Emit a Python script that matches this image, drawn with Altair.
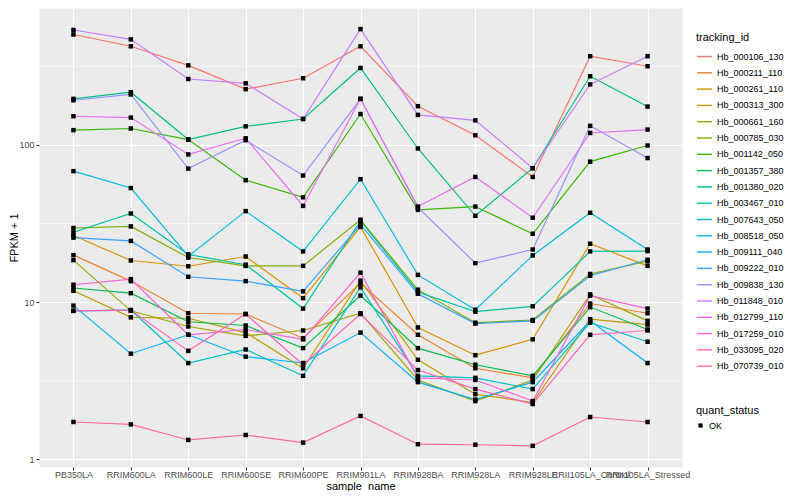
import altair as alt
import pandas as pd

samples = ["PB350LA", "RRIM600LA", "RRIM600LE", "RRIM600SE", "RRIM600PE",
           "RRIM901LA", "RRIM928BA", "RRIM928LA", "RRIM928LE",
           "RRII105LA_Control", "RRII105LA_Stressed"]

tracking_ids = ["Hb_000106_130", "Hb_000211_110", "Hb_000261_110", "Hb_000313_300",
                "Hb_000661_160", "Hb_000785_030", "Hb_001142_050", "Hb_001357_380",
                "Hb_001380_020", "Hb_003467_010", "Hb_007643_050", "Hb_008518_050",
                "Hb_009111_040", "Hb_009222_010", "Hb_009838_130", "Hb_011848_010",
                "Hb_012799_110", "Hb_017259_010", "Hb_033095_020", "Hb_070739_010"]

palette = ["#F8766D", "#EA8331", "#D89000", "#C09B00", "#A3A500", "#7CAE00",
           "#39B600", "#00BB4E", "#00BF7D", "#00C1A3", "#00BFC4", "#00BAE0",
           "#00B0F6", "#35A2FF", "#9590FF", "#C77CFF", "#E76BF3", "#FA62DB",
           "#FF62BC", "#FF6C91"]

# FPKM + 1, one list per tracking_id, in the order of `samples`
hb_000106_130 = [503, 423, 320, 226, 265, 423, 176, 115, 62.5, 366, 316]
hb_000211_110 = [19.9, 13.6, 8.5, 8.4, 5.9, 13.2, 6.2, 3.8, 3.3, 9.8, 8.5]
hb_000261_110 = [26.5, 18.4, 16.9, 19.5, 10.6, 30.1, 6.9, 4.6, 5.8, 23.5, 17.0]
hb_000313_300 = [11.8, 8.0, 7.9, 6.4, 3.8, 13.7, 4.3, 2.6, 2.3, 7.8, 7.2]
hb_000661_160 = [18.5, 8.8, 7.0, 6.1, 6.6, 8.5, 3.2, 2.35, 3.2, 11.2, 7.6]
hb_000785_030 = [29.6, 30.3, 19.2, 17.0, 17.0, 33.4, 12.0, 7.4, 7.7, 15.1, 18.2]
hb_001142_050 = [124, 127, 108, 59.6, 46.4, 157, 38.6, 40.5, 27.2, 78.2, 99]
hb_001357_380 = [12.3, 11.4, 7.5, 7.1, 5.1, 11.0, 5.1, 4.0, 3.4, 9.3, 6.7]
hb_001380_020 = [196, 216, 108, 131, 146, 308, 94.8, 35.4, 71, 273, 175]
hb_003467_010 = [27.8, 36.6, 20.1, 17.3, 9.1, 32.8, 11.6, 8.7, 9.4, 21.0, 21.1]
hb_007643_050 = [8.8, 8.9, 4.1, 5.0, 3.4, 12.4, 3.4, 3.3, 2.8, 7.4, 5.6]
hb_008518_050 = [68, 53.1, 19.6, 37.9, 21.0, 60.5, 14.9, 8.95, 19.8, 37.0, 21.6]
hb_009111_040 = [9.5, 4.7, 6.2, 4.5, 4.1, 6.4, 3.1, 2.4, 3.1, 7.6, 4.1]
hb_009222_010 = [25.7, 24.5, 14.5, 13.6, 11.7, 31.1, 11.3, 7.3, 7.6, 14.7, 18.6]
hb_009838_130 = [192, 209, 70.6, 107, 63.8, 196, 40.0, 17.7, 21.6, 132, 82.4]
hb_011848_010 = [537, 468, 262, 246, 146, 544, 155, 143, 71, 242, 366]
hb_012799_110 = [152, 149, 86.9, 110, 40.9, 196, 40.5, 62.5, 34.4, 119, 125]
hb_017259_010 = [12.9, 14.0, 6.2, 6.7, 5.8, 15.4, 3.3, 3.2, 2.35, 11.0, 9.1]
hb_033095_020 = [8.8, 8.9, 4.9, 8.4, 4.0, 8.4, 3.7, 2.8, 2.25, 6.2, 6.6]
hb_070739_010 = [1.73, 1.67, 1.33, 1.43, 1.28, 1.89, 1.25, 1.24, 1.22, 1.86, 1.73]

series = [hb_000106_130, hb_000211_110, hb_000261_110, hb_000313_300, hb_000661_160,
          hb_000785_030, hb_001142_050, hb_001357_380, hb_001380_020, hb_003467_010,
          hb_007643_050, hb_008518_050, hb_009111_040, hb_009222_010, hb_009838_130,
          hb_011848_010, hb_012799_110, hb_017259_010, hb_033095_020, hb_070739_010]

y_breaks = [1, 10, 100]
y_minor = [3.1623, 31.623, 316.23]

rows = []
for tid, vals in zip(tracking_ids, series):
    for s, v in zip(samples, vals):
        rows.append({"tracking_id": tid, "sample_name": s, "fpkm1": v, "quant_status": "OK"})
df = pd.DataFrame(rows)
minor_df = pd.DataFrame({"fpkm1": y_minor})

FONT = "Liberation Sans"

x_enc = alt.X("sample_name:N", sort=samples,
              scale=alt.Scale(type="point", padding=0.6),
              axis=alt.Axis(title="sample_name", labelAngle=0, labelFontSize=9,
                            labelColor="#4D4D4D", tickColor="#333333", tickSize=3,
                            labelPadding=0, titlePadding=1, titleFontSize=11,
                            titleFontWeight="normal", titleColor="black",
                            domain=False, grid=True, gridColor="white", gridWidth=1.1,
                            labelFont=FONT, titleFont=FONT))
y_scale = alt.Scale(type="log", domain=[0.895, 741], nice=False)
y_axis = alt.Axis(title="FPKM + 1", values=y_breaks, format="~g",
                  labelFontSize=9, labelColor="#4D4D4D", tickColor="#333333",
                  tickSize=3, labelPadding=2, titleFontSize=11,
                  titleFontWeight="normal", titleColor="black",
                  minExtent=20, maxExtent=20, titlePadding=0,
                  domain=False, grid=True, gridColor="white", gridWidth=1.1,
                  labelFont=FONT, titleFont=FONT)
y_enc = alt.Y("fpkm1:Q", scale=y_scale, axis=y_axis)

minor = alt.Chart(minor_df).mark_rule(color="white", strokeWidth=0.55).encode(
    y=y_enc
)

lines = alt.Chart(df).mark_line(strokeWidth=1.15).encode(
    x=x_enc, y=y_enc,
    color=alt.Color("tracking_id:N",
                    scale=alt.Scale(domain=tracking_ids, range=palette),
                    legend=alt.Legend(title="tracking_id", orient="none",
                                      legendX=657, legendY=24,
                                      symbolType="stroke", symbolSize=225,
                                      symbolStrokeWidth=1.4, rowPadding=2.3,
                                      labelFontSize=9, titleFontSize=11,
                                      titleFontWeight="normal", titlePadding=5,
                                      labelFont=FONT, titleFont=FONT,
                                      labelColor="black", titleColor="black",
                                      padding=0)),
    detail="tracking_id:N",
)

points = alt.Chart(df).mark_point(filled=True, color="black", size=20, opacity=1).encode(
    x=x_enc, y=y_enc,
    shape=alt.Shape("quant_status:N", scale=alt.Scale(range=["square"]),
                    legend=alt.Legend(title="quant_status", orient="none",
                                      legendX=657, legendY=397,
                                      symbolFillColor="black", symbolStrokeColor="black",
                                      symbolSize=18, labelFontSize=9, titleFontSize=11,
                                      titleFontWeight="normal", titlePadding=5,
                                      labelFont=FONT, titleFont=FONT,
                                      labelColor="black", titleColor="black",
                                      padding=0)),
)

chart = alt.layer(minor, lines, points).properties(
    width=643, height=459,
    padding={"left": 0, "top": 0, "right": 0, "bottom": 0},
    background="white",
).configure_view(fill="#EBEBEB", stroke="transparent")

chart.save("out.html", embed_options={"renderer": "svg", "actions": False})
